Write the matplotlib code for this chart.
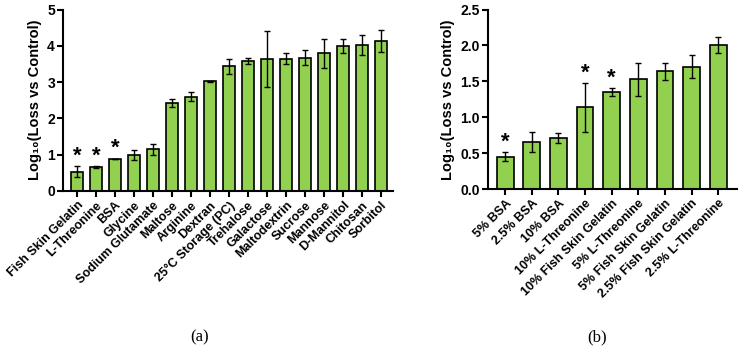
import matplotlib
matplotlib.use("Agg")
import matplotlib.pyplot as plt
import numpy as np

# Panel (a) data
labels_a = ["Fish Skin Gelatin", "L-Threonine", "BSA", "Glycine", "Sodium Glutamate",
            "Maltose", "Arginine", "Dextran", "25°C Storage (PC)", "Trehalose",
            "Galactose", "Maltodextrin", "Sucrose", "Mannose", "D-Mannitol",
            "Chitosan", "Sorbitol"]
values_a = [0.53, 0.65, 0.88, 0.99, 1.15, 2.42, 2.60, 3.02, 3.44, 3.59,
            3.64, 3.65, 3.67, 3.79, 3.99, 4.03, 4.13]
errors_a = [0.15, 0.03, 0.01, 0.13, 0.15, 0.11, 0.13, 0.02, 0.21, 0.08,
            0.77, 0.15, 0.21, 0.40, 0.19, 0.28, 0.31]
signif_a = [0, 1, 2]

# Panel (b) data
labels_b = ["5% BSA", "2.5% BSA", "10% BSA", "10% L-Threonine", "10% Fish Skin Gelatin",
            "5% L-Threonine", "5% Fish Skin Gelatin", "2.5% Fish Skin Gelatin",
            "2.5% L-Threonine"]
values_b = [0.45, 0.65, 0.71, 1.14, 1.35, 1.53, 1.64, 1.70, 2.01]
errors_b = [0.065, 0.14, 0.07, 0.34, 0.05, 0.23, 0.12, 0.16, 0.11]
signif_b = [0, 3, 4]

GREEN = "#92D050"
FONT = ["Liberation Sans", "DejaVu Sans"]

plt.rcParams['font.family'] = FONT
plt.rcParams['font.weight'] = 'bold'

fig = plt.figure(figsize=(7.43, 3.47), dpi=100)


def draw_panel(ax, labels, values, errors, signif, ymax, yticks, ytick_fmt, xlim):
    x = np.arange(len(labels))
    ax.bar(x, values, width=0.63, color=GREEN, edgecolor="black", linewidth=1.2, zorder=2)
    ax.errorbar(x, values, yerr=errors, fmt="none", ecolor="black", elinewidth=1.0,
                capsize=2, capthick=1.0, zorder=3)
    for i in signif:
        ax.text(x[i], values[i] + errors[i] + 0.055 * ymax, "*", ha="center", va="center",
                fontsize=16, fontweight="bold", zorder=4)
    ax.set_xlim(*xlim)
    ax.set_ylim(0, ymax)
    ax.set_yticks(yticks)
    ax.set_yticklabels([ytick_fmt.format(t) for t in yticks], fontsize=10, fontweight="bold")
    ax.set_xticks(x)
    ax.set_xticklabels(labels, rotation=45, ha="right", rotation_mode="anchor",
                       fontsize=9, fontweight="bold")
    ax.set_ylabel("Log₁₀(Loss vs Control)", fontsize=10.5, fontweight="bold", labelpad=4)
    for side in ["top", "right"]:
        ax.spines[side].set_visible(False)
    for side in ["left", "bottom"]:
        ax.spines[side].set_linewidth(1.5)
    ax.tick_params(axis="both", direction="out", length=4, width=1.5, pad=2)


ax_a = fig.add_axes([0.0852, 0.4496, 0.4438, 0.523])
draw_panel(ax_a, labels_a, values_a, errors_a, signif_a, 5, [0, 1, 2, 3, 4, 5], "{:.0f}",
           (-0.72, 16.63))

ax_b = fig.add_axes([0.657, 0.4553, 0.335, 0.5173])
draw_panel(ax_b, labels_b, values_b, errors_b, signif_b, 2.5, [0, 0.5, 1.0, 1.5, 2.0, 2.5],
           "{:.1f}", (-0.64, 8.71))

fig.text(200 / 743, 1 - 337 / 347, "(a)", ha="center", va="center", fontsize=12,
         family=["Liberation Serif", "DejaVu Serif"], fontweight="normal")
fig.text(597 / 743, 1 - 337 / 347, "(b)", ha="center", va="center", fontsize=12,
         family=["Liberation Serif", "DejaVu Serif"], fontweight="normal")

fig.savefig("out.png", dpi=100)
